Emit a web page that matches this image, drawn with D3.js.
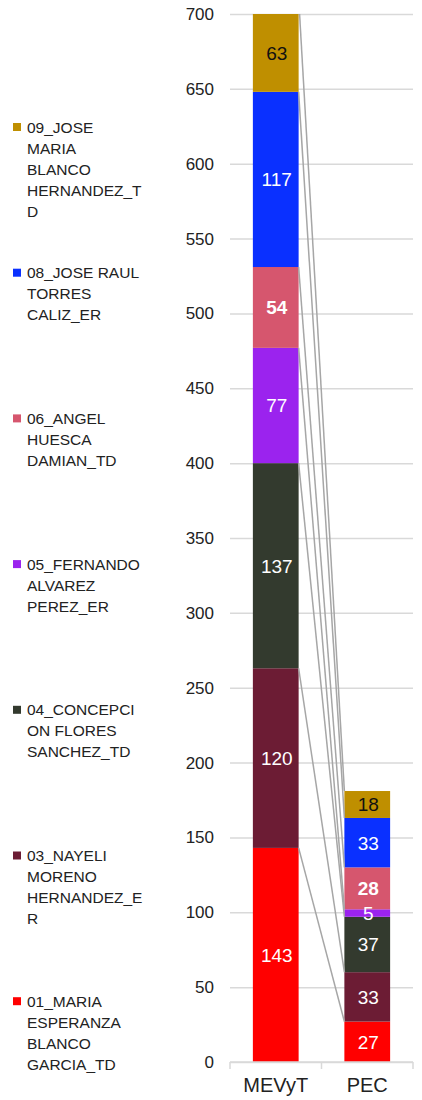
<!DOCTYPE html>
<html>
<head>
<meta charset="utf-8">
<script src="https://cdn.jsdelivr.net/npm/d3@7"></script>
<style>
  body { margin: 0; background: #fff; }
  text { font-family: "Liberation Sans", Arial, sans-serif; }
</style>
</head>
<body>
<script>
const svgWidth = 422
const svgHeight = 1100

const categories = ["MEVyT", "PEC"]
const seriesNames = [
    "01_MARIA ESPERANZA BLANCO GARCIA_TD",
    "03_NAYELI MORENO HERNANDEZ_ER",
    "04_CONCEPCION FLORES SANCHEZ_TD",
    "05_FERNANDO ALVAREZ PEREZ_ER",
    "06_ANGEL HUESCA DAMIAN_TD",
    "08_JOSE RAUL TORRES CALIZ_ER",
    "09_JOSE MARIA BLANCO HERNANDEZ_TD"
]
// legend text as it wraps in the picture
const legendLines = [
    ["01_MARIA", "ESPERANZA", "BLANCO", "GARCIA_TD"],
    ["03_NAYELI", "MORENO", "HERNANDEZ_E", "R"],
    ["04_CONCEPCI", "ON FLORES", "SANCHEZ_TD"],
    ["05_FERNANDO", "ALVAREZ", "PEREZ_ER"],
    ["06_ANGEL", "HUESCA", "DAMIAN_TD"],
    ["08_JOSE RAUL", "TORRES", "CALIZ_ER"],
    ["09_JOSE", "MARIA", "BLANCO", "HERNANDEZ_T", "D"]
]
const valuesMEVyT = [143, 120, 137, 77, 54, 117, 63]
const valuesPEC = [27, 33, 37, 5, 28, 33, 18]
const yTicks = [0, 50, 100, 150, 200, 250, 300, 350, 400, 450, 500, 550, 600, 650, 700]

const colors = ["#ff0000", "#6c1c34", "#333a2e", "#9b23ee", "#d6566e", "#0a30ff", "#bf8f00"]
const labelColors = ["#fff", "#fff", "#fff", "#fff", "#fff", "#fff", "#111"]
const boldLabel = [false, false, false, false, true, false, false]

const plot = { left: 230, right: 413, top: 14, bottom: 1062 }

const rows = categories.map((c, i) => {
    const row = { cat: c }
    seriesNames.forEach((s, j) => {
        row[s] = (i === 0 ? valuesMEVyT : valuesPEC)[j]
    })
    return row
})
const stacked = d3.stack().keys(seriesNames)(rows)

const x = d3.scaleBand()
    .domain(categories)
    .range([plot.left, plot.right])
    .paddingInner(0.5)
    .paddingOuter(0.25)

const y = d3.scaleLinear()
    .domain([0, 700])
    .range([plot.bottom, plot.top])

const svg = d3.select("body").append("svg")
    .attr("width", svgWidth)
    .attr("height", svgHeight)

svg.append("defs").append("clipPath")
    .attr("id", "plotClip")
    .append("rect")
    .attr("x", plot.left)
    .attr("y", plot.top)
    .attr("width", plot.right - plot.left)
    .attr("height", plot.bottom - plot.top)

// gridlines + y labels
const yAxis = svg.append("g")
    .attr("transform", `translate(${plot.left},0)`)
    .call(d3.axisLeft(y).tickValues(yTicks).tickSize(-(plot.right - plot.left)).tickPadding(16))
yAxis.select(".domain").remove()
yAxis.selectAll(".tick line").attr("stroke", "#d9d9d9").attr("stroke-width", 1.5)
yAxis.selectAll(".tick text")
    .attr("font-size", 17)
    .attr("fill", "#222")
    .style("font-family", "Liberation Sans, Arial, sans-serif")

const barsG = svg.append("g").attr("clip-path", "url(#plotClip)")

stacked.forEach((layer, j) => {
    barsG.selectAll(null)
        .data(layer)
        .join("rect")
        .attr("x", d => x(d.data.cat))
        .attr("width", x.bandwidth())
        .attr("y", d => y(d[1]))
        .attr("height", d => y(d[0]) - y(d[1]))
        .attr("fill", colors[j])
})

// series lines between the bars
const linesG = svg.append("g").attr("clip-path", "url(#plotClip)")
stacked.forEach(layer => {
    const a = layer[0], b = layer[1]
    linesG.append("line")
        .attr("x1", x(a.data.cat) + x.bandwidth())
        .attr("y1", y(a[1]))
        .attr("x2", x(b.data.cat))
        .attr("y2", y(b[1]))
        .attr("stroke", "#a6a6a6")
        .attr("stroke-width", 1.5)
})

// data labels
stacked.forEach((layer, j) => {
    svg.selectAll(null)
        .data(layer)
        .join("text")
        .attr("x", d => x(d.data.cat) + x.bandwidth() / 2 + 1)
        .attr("y", d => y((d[0] + Math.min(d[1], 700)) / 2))
        .attr("dy", "0.36em")
        .attr("text-anchor", "middle")
        .attr("font-size", 19)
        .attr("font-weight", boldLabel[j] ? "bold" : "normal")
        .attr("fill", labelColors[j])
        .text(d => d[1] - d[0])
})

// category axis
const xAxis = svg.append("g")
    .attr("transform", `translate(0,${plot.bottom})`)
xAxis.append("line")
    .attr("x1", plot.left).attr("x2", plot.right)
    .attr("stroke", "#d9d9d9").attr("stroke-width", 1.5)
xAxis.selectAll(null)
    .data([plot.left, (plot.left + plot.right) / 2, plot.right])
    .join("line")
    .attr("x1", d => d).attr("x2", d => d)
    .attr("y1", 0).attr("y2", 7)
    .attr("stroke", "#d9d9d9").attr("stroke-width", 1.5)
xAxis.selectAll(null)
    .data(categories)
    .join("text")
    .attr("x", d => x(d) + x.bandwidth() / 2)
    .attr("y", 30)
    .attr("text-anchor", "middle")
    .attr("font-size", 20)
    .attr("fill", "#222")
    .text(d => d)

// legend, top entry is the last series
const legend = svg.append("g")
const legendTop = 127
const legendStep = 145.7
seriesNames.slice().reverse().forEach((s, k) => {
    const j = seriesNames.length - 1 - k
    const g = legend.append("g")
        .attr("transform", `translate(0,${legendTop + k * legendStep})`)
    g.append("rect")
        .attr("x", 13).attr("y", -4)
        .attr("width", 8).attr("height", 8)
        .attr("fill", colors[j])
    g.selectAll(null)
        .data(legendLines[j])
        .join("text")
        .attr("x", 27)
        .attr("y", (d, i) => i * 21)
        .attr("dy", "0.36em")
        .attr("font-size", 15.5)
        .attr("fill", "#222")
        .text(d => d)
})
</script>
</body>
</html>
